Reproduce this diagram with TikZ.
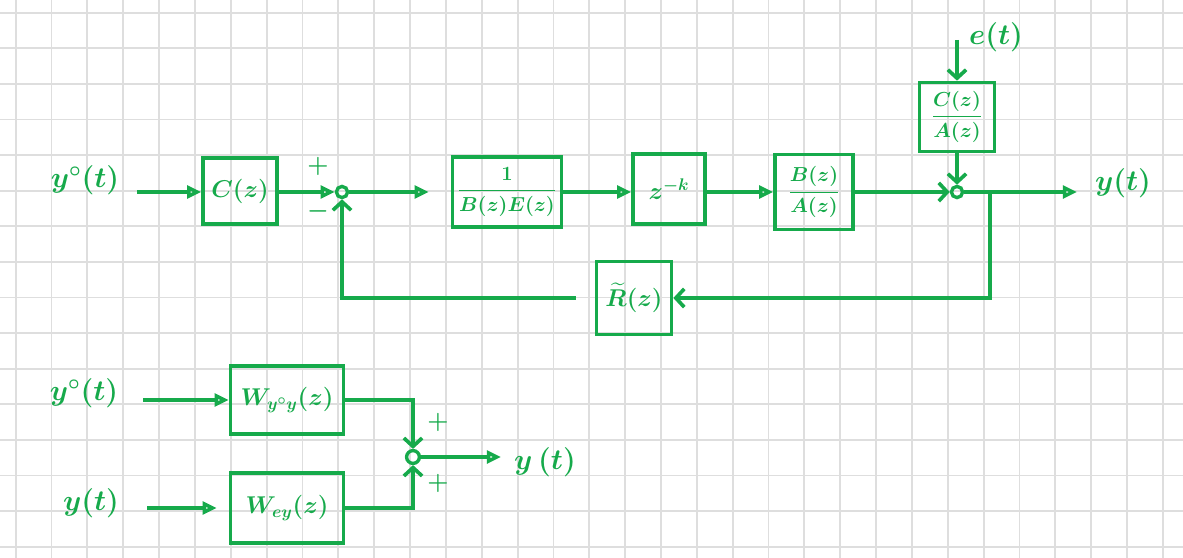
\documentclass[tikz,border=0pt]{standalone}
\usepackage{amsmath}
\usetikzlibrary{arrows.meta,calc,positioning}
\definecolor{pen}{RGB}{22,170,75}
\definecolor{gridgray}{RGB}{222,222,222}
\begin{document}
\begin{tikzpicture}[x=0.025cm,y=-0.025cm]
  \tikzset{
    blk/.style={draw=pen, text=pen, line width=2.6pt, inner sep=0pt, font=\LARGE\boldmath},
    sumpt/.style={circle, draw=pen, line width=2.4pt, inner sep=0pt, minimum size=0.28cm},
    lbl/.style={text=pen, font=\huge\boldmath},
    sgn/.style={text=pen, font=\LARGE\boldmath},
    openarr/.style={draw=pen, line width=2.6pt, -{Triangle[open,length=10pt,width=9pt]}},
    vee/.style={draw=pen, line width=2.6pt, -{Straight Barb[length=6pt,width=13pt]}},
  }
  \useasboundingbox (0,0) rectangle (1183,558);
  % squared paper
  \foreach \i in {0,...,32}
    \draw[gridgray, line width=1.3pt] (15.7+35.85*\i,0) -- (15.7+35.85*\i,558);
  \foreach \j in {0,...,15}
    \draw[gridgray, line width=1.3pt] (0,12.7+35.6*\j) -- (1183,12.7+35.6*\j);

  % upper loop
  \node[lbl] (ref) at (85,180) {$y^{\circ}(t)$};
  \coordinate (refin) at (137,192);
  \node[blk, minimum width=1.85cm, minimum height=1.65cm] (ctrl) at (240,191) {$C(z)$};
  \node[sumpt] (s1) at (342,192) {};
  \node[sgn] (s1p) at (318,166) {$+$};
  \node[sgn] (s1m) at (318,211) {$-$};
  \node[blk, minimum width=2.725cm, minimum height=1.75cm, font=\Large\boldmath] (be) at (507,192) {$\dfrac{1}{B(z)E(z)}$};
  \node[blk, minimum width=1.8cm, minimum height=1.75cm] (dly) at (669,189) {$z^{-k}$};
  \node[blk, minimum width=1.95cm, minimum height=1.875cm, font=\Large\boldmath] (ba) at (814,192) {$\dfrac{B(z)}{A(z)}$};
  \node[blk, minimum width=1.875cm, minimum height=1.725cm, font=\Large\boldmath] (ca) at (957,117) {$\dfrac{C(z)}{A(z)}$};
  \node[lbl] (et) at (996,37) {$e(t)$};
  \coordinate (ein) at (957,40);
  \node[sumpt] (s2) at (957,192) {};
  \coordinate (yend) at (1077,192);
  \node[lbl] (yt) at (1123,183) {$y(t)$};
  \coordinate (br) at (990,192);
  \node[blk, minimum width=1.875cm, minimum height=1.825cm] (rt) at (634,298) {$\widetilde{R}(z)$};

  \draw[openarr] (refin) -- (refin -| ctrl.west);
  \draw[openarr] (ctrl.east |- s1) -- (s1.west);
  \draw[openarr, shorten >=0.55cm] (s1.east) -- (be.west);
  \draw[openarr] (be.east) -- (be.east -| dly.west);
  \draw[openarr] (be.east -| dly.east) -- (ba.west);
  \draw[vee] (ba.east) -- (s2.west);
  \draw[vee] (ein) -- (ca.north);
  \draw[vee] (ca.south) -- (s2.north);
  \draw[openarr] (s2.east) -- (yend);
  \draw[vee] (br) |- (rt.east);
  \draw[vee] ($(rt.west)+(-19,0)$) -| (s1.south);

  % combined transfer functions
  \node[lbl] (ref2) at (84,393) {$y^{\circ}(t)$};
  \coordinate (refin2) at (143,400);
  \node[blk, minimum width=2.825cm, minimum height=1.7cm] (wyy) at (287,400) {$W_{y^{\circ}y}(z)$};
  \node[lbl] (yin) at (91,503) {$y(t)$};
  \coordinate (yin2) at (147,508);
  \node[blk, minimum width=2.825cm, minimum height=1.75cm] (wey) at (287,508) {$W_{ey}(z)$};
  \node[sumpt, minimum size=0.32cm] (s3) at (413,457) {};
  \node[sgn] (s3p) at (438,422) {$+$};
  \node[sgn] (s3q) at (438,483) {$+$};
  \coordinate (yend2) at (501,457);
  \node[lbl] (yt2) at (545,462) {$y\,(t)$};

  \draw[openarr] (refin2) -- (wyy.west);
  \draw[openarr, shorten >=0.3cm] (yin2) -- (wey.west);
  \draw[vee] (wyy.east) -| (s3.north);
  \draw[vee] (wey.east) -| (s3.south);
  \draw[openarr] (s3.east) -- (yend2);
\end{tikzpicture}
\end{document}
